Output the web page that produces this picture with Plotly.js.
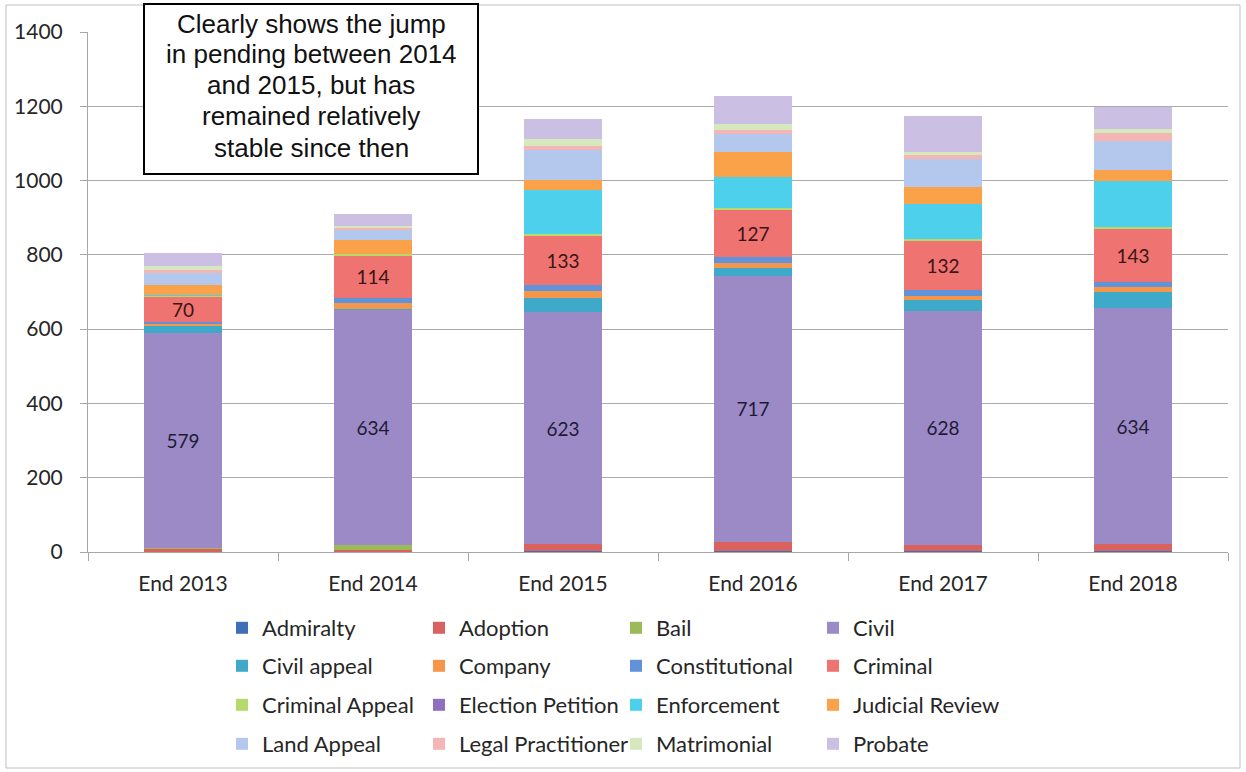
<!DOCTYPE html>
<html>
<head>
<meta charset="utf-8">
<script src="https://cdn.plot.ly/plotly-3.0.1.min.js"></script>
<style>html,body{margin:0;padding:0;background:#fff;}#chart{width:1246px;height:772px;}</style>
</head>
<body>
<div id="chart"></div>
<script>
const categories = ['End 2013','End 2014','End 2015','End 2016','End 2017','End 2018'];

const admiralty         = [0, 2, 2, 2, 2, 2];
const adoption          = [10, 3, 20, 25, 18, 20];
const bail              = [1, 13, 0, 0, 0, 0];
const civil             = [579, 634, 623, 717, 628, 634];
const civilAppeal       = [18, 3, 40, 20, 30, 45];
const company           = [6, 16, 18, 15, 12, 12];
const constitutional    = [4, 14, 16, 16, 15, 15];
const criminal          = [70, 114, 133, 127, 132, 143];
const criminalAppeal    = [3, 2, 5, 3, 6, 3];
const electionPetition  = [0, 0, 0, 0, 0, 0];
const enforcement       = [2, 0, 117, 85, 95, 124];
const judicialReview    = [27, 38, 27, 67, 45, 30];
const landAppeal        = [30, 30, 80, 49, 75, 78];
const legalPractitioner = [8, 3, 13, 9, 11, 22];
const matrimonial       = [12, 7, 18, 16, 9, 12];
const probate           = [36, 32, 55, 78, 95, 58];

const seriesNames = ['Admiralty','Adoption','Bail','Civil','Civil appeal','Company','Constitutional','Criminal',
  'Criminal Appeal','Election Petition','Enforcement','Judicial Review','Land Appeal','Legal Practitioner','Matrimonial','Probate'];
const seriesValues = [admiralty, adoption, bail, civil, civilAppeal, company, constitutional, criminal,
  criminalAppeal, electionPetition, enforcement, judicialReview, landAppeal, legalPractitioner, matrimonial, probate];
const seriesColors = ['#3F6FB6','#D9625F','#9BBB59','#9C8AC6','#3FA9C9','#F5964B','#6193DB','#EE7371',
  '#B5D96A','#8E6FC0','#4DD0EC','#F9A24A','#B4C8EE','#F4B6B4','#D6E8BE','#CBC0E3'];
const labelColors = {'Civil': '#1E1A36', 'Criminal': '#3A1616'};
const legendIds = ['legend','legend2','legend3','legend4'];

const noteLines = ['Clearly shows the jump','in pending between 2014','and 2015, but has','remained relatively','stable since then'];

const FONT = 'Lato, "Open Sans", sans-serif';

const traces = seriesNames.map((name, i) => {
  const showLab = name in labelColors;
  return {
    type: 'bar',
    name: name,
    x: categories,
    y: seriesValues[i],
    marker: {color: seriesColors[i], line: {width: 0}},
    text: showLab ? seriesValues[i].map(String) : undefined,
    textposition: showLab ? 'inside' : 'none',
    insidetextanchor: 'middle',
    textangle: 0,
    constraintext: 'none',
    textfont: {family: FONT, size: 19, color: labelColors[name] || '#000'},
    legend: legendIds[Math.floor(i / 4)],
    hoverinfo: 'x+y+name'
  };
});

const L = 88, T = 32, W = 1140, H = 520;
const px = v => (v - L) / W;
const py = v => (T + H - v) / H;

function legendAt(yPix) {
  return {
    orientation: 'h',
    x: px(222), xanchor: 'left',
    y: py(yPix), yanchor: 'middle',
    entrywidth: 152, entrywidthmode: 'pixels',
    font: {family: FONT, size: 22, color: '#262626'},
    bgcolor: 'rgba(0,0,0,0)',
    traceorder: 'normal',
    itemclick: false
  };
}

const noteCenters = [23.5, 54.5, 85.5, 116.5, 147.5];
const annotations = noteLines.map((t, i) => ({
  xref: 'paper', yref: 'paper',
  x: px(311), y: py(noteCenters[i]), xanchor: 'center', yanchor: 'middle',
  text: t, showarrow: false,
  font: {family: 'Liberation Sans, Arial, sans-serif', size: 26, color: '#111'}
}));

const layout = {
  width: 1246, height: 772,
  margin: {l: L, r: 1246 - L - W, t: T, b: 772 - T - H, autoexpand: false},
  paper_bgcolor: '#fff', plot_bgcolor: '#fff',
  barmode: 'stack',
  bargap: 0.59,
  showlegend: true,
  font: {family: FONT, color: '#262626'},
  xaxis: {
    type: 'category',
    tickfont: {family: FONT, size: 21, color: '#262626'},
    showline: true, linecolor: '#A6A6A6', linewidth: 1,
    ticks: 'outside', tickson: 'boundaries', ticklen: 8, tickcolor: '#A6A6A6',
    ticklabelstandoff: 13,
    showgrid: false, fixedrange: true, automargin: false
  },
  yaxis: {
    range: [0, 1400], dtick: 200, tick0: 0,
    tickfont: {family: FONT, size: 21, color: '#262626'},
    showline: true, linecolor: '#A6A6A6', linewidth: 1,
    ticks: 'outside', ticklen: 7, tickcolor: '#A6A6A6',
    ticklabelstandoff: 13,
    showgrid: true, gridcolor: '#ABABAB', gridwidth: 1,
    zeroline: false, fixedrange: true, automargin: false
  },
  legend: legendAt(628),
  legend2: legendAt(666),
  legend3: legendAt(705),
  legend4: legendAt(744),
  shapes: [
    {
      type: 'rect', xref: 'paper', yref: 'paper',
      x0: px(6), x1: px(1240), y0: py(768), y1: py(5),
      line: {color: '#BFBFBF', width: 1}, fillcolor: 'rgba(0,0,0,0)', layer: 'below'
    },
    {
      type: 'rect', xref: 'paper', yref: 'paper',
      x0: px(144), x1: px(478), y0: py(174), y1: py(4),
      line: {color: '#000', width: 2}, fillcolor: '#fff', layer: 'above'
    }
  ],
  annotations: annotations
};

Plotly.newPlot('chart', traces, layout, {displayModeBar: false, responsive: false});
</script>
</body>
</html>
